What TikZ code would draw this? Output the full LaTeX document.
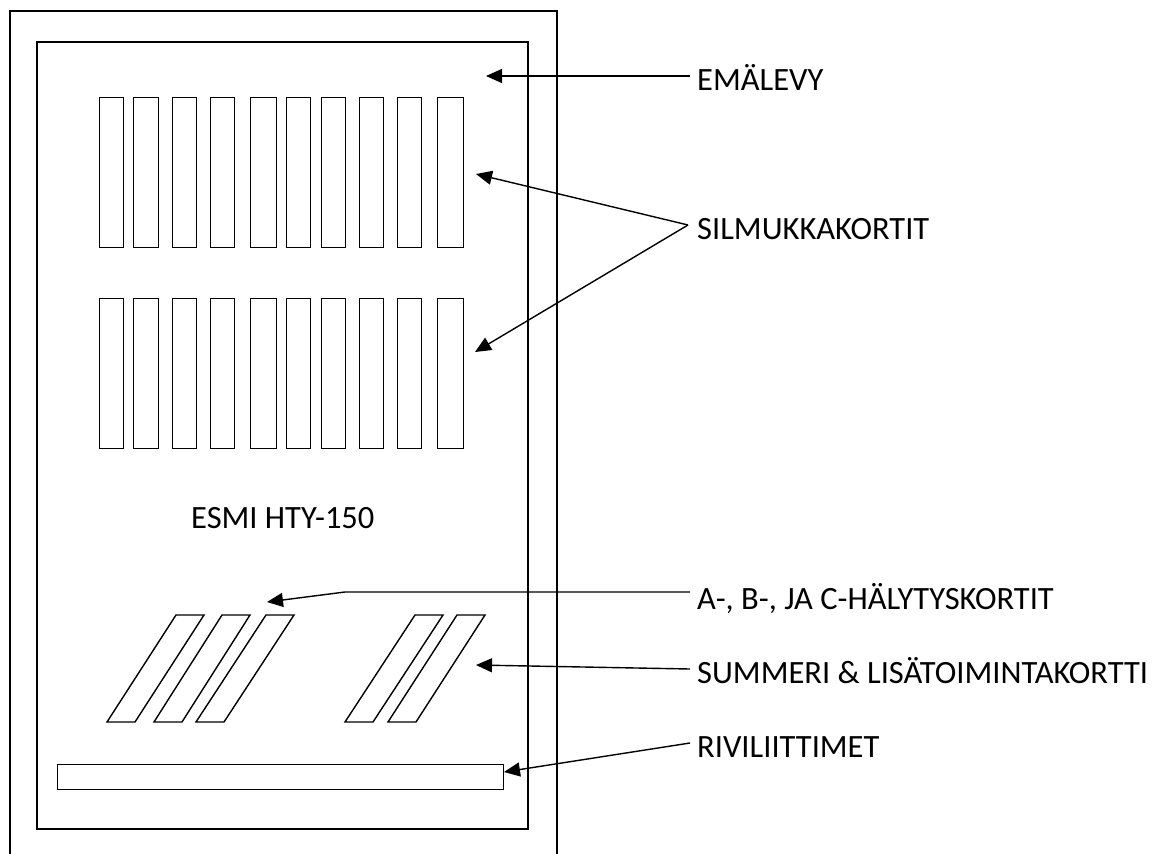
\documentclass[tikz,border=0pt]{standalone}
\usepackage{fontspec}
\setmainfont{Carlito}
\usetikzlibrary{arrows.meta}
\tikzset{
  ln/.style={line width=1.4pt, black},
  card/.style={ln, draw, minimum width=#1, minimum height=150pt, inner sep=0pt, anchor=north west},
  bar/.style={ln, draw, minimum width=446pt, minimum height=25pt, inner sep=0pt, anchor=north west},
  arr/.style={ln, -{Triangle[length=16pt,width=14pt]}},
  lbl/.style={font=\fontsize{32.5}{36}\selectfont, inner sep=0pt, anchor=base west}
}
\begin{document}
\begin{tikzpicture}[x=1pt,y=-1pt]
\useasboundingbox (0,0) rectangle (1171,854);
% cabinet
\draw[ln] (10,854) -- (10,11) -- (557,11) -- (557,854);
\draw[ln] (37,42) rectangle (528,829);
% loop cards, two rows
\foreach \i/\x/\w in {1/99/24,2/133/25,3/172/24,4/210/24,5/250/26,6/286/24,7/321/24,8/359/24,9/397/24,10/437/26}{
  \node[card=\w pt] (a\i) at (\x,97) {};
  \node[card=\w pt] (b\i) at (\x,298) {};
}
% slanted alarm cards
\foreach \t/\b in {176/107,222/154,266/196,415/345,457/388}{
  \draw[ln, line join=miter] (\t,615) -- (\t+28,615) -- (\b+28,722) -- (\b,722) -- cycle;
}
% terminal strip
\node[bar] (strip) at (57,764) {};
% label
\node[lbl] (esmi) at (191,528) {ESMI HTY-150};
% right labels
\node[lbl] (lemo) at (697,90) {EMÄLEVY};
\node[lbl] (lsil) at (697,239) {SILMUKKAKORTIT};
\node[lbl] (lhal) at (697,609) {A-, B-, JA C-HÄLYTYSKORTIT};
\node[lbl] (lsum) at (697,683) {SUMMERI \& LISÄTOIMINTAKORTTI};
\node[lbl] (lriv) at (697,757) {RIVILIITTIMET};
% arrow anchors
\coordinate (e0) at (690,76);   \coordinate (e1) at (486,76);
\coordinate (s0) at (688,225);  \coordinate (s1) at (476,174); \coordinate (s2) at (475,352);
\coordinate (h0) at (690,592);  \coordinate (hb) at (345,592); \coordinate (h1) at (267,602);
\coordinate (u0) at (690,669);  \coordinate (u1) at (476,665);
\coordinate (r0) at (690,743);  \coordinate (r1) at (504,772);
\draw[arr] (e0) -- (e1);
\draw[arr] (s0) -- (s1);
\draw[arr] (s0) -- (s2);
\draw[arr] (h0) -- (hb) -- (h1);
\draw[arr] (u0) -- (u1);
\draw[arr] (r0) -- (r1);
\end{tikzpicture}
\end{document}
